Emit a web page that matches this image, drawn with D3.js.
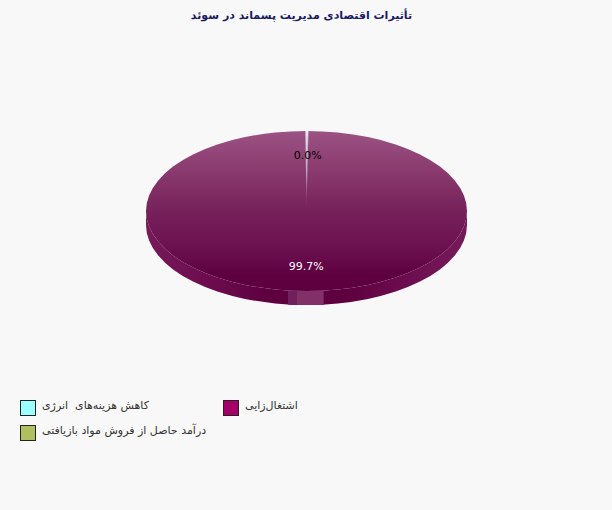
<!DOCTYPE html>
<html>
<head>
<meta charset="utf-8">
<script src="https://cdn.jsdelivr.net/npm/d3@7"></script>
<style>
  html, body { margin: 0; padding: 0; background: #f8f8f8; }
  text { font-family: "DejaVu Sans", sans-serif; }
</style>
</head>
<body>
<div id="chart"></div>
<script>
let titleText = "تأثیرات اقتصادی مدیریت پسماند در سوئد";

// slices in drawing order, clockwise from the top
let categories = ["اشتغال‌زایی", "کاهش هزینه‌های\u00a0 انرژی", "درآمد حاصل از فروش مواد بازیافتی"];
let values = [99.7, 0.26, 0.04];
let colors = ["#a50068", "#99ffff", "#b0c060"];

// the small slices overlap, only one of their labels is shown
let labelled = [true, false, true];
let labelColors = ["#ffffff", "#000000", "#000000"];

// legend reading order, by index into categories
let legendOrder = [1, 0, 2];

let width = 612, height = 510;
let cx = 306.5, cy = 211, rx = 160.5, ry = 80, depth = 14;

let svg = d3.select("#chart").append("svg")
    .attr("width", width)
    .attr("height", height)
    .style("display", "block");

let defs = svg.append("defs");

function verticalGradient(id, stops) {
    let grad = defs.append("linearGradient")
        .attr("id", id)
        .attr("gradientUnits", "userSpaceOnUse")
        .attr("x1", 0).attr("x2", 0)
        .attr("y1", cy - ry).attr("y2", cy + ry);
    stops.forEach(s => grad.append("stop").attr("offset", s[0]).attr("stop-color", s[1]));
}

verticalGradient("topShade", [["0%", "#9c5284"], ["25%", "#8a3a6e"], ["50%", "#76215a"], ["75%", "#6a0f4e"], ["90%", "#5e0040"], ["100%", "#5e0040"]]);
// the thin slices fade out towards the centre
verticalGradient("thinShade", [["0%", "#e4ecf4"], ["25%", "#b8a8c4"], ["50%", "#76215a"], ["100%", "#76215a"]]);

let sideGrad = defs.append("linearGradient")
    .attr("id", "sideShade")
    .attr("gradientUnits", "userSpaceOnUse")
    .attr("x1", cx - rx).attr("x2", cx + rx)
    .attr("y1", 0).attr("y2", 0);
sideGrad.append("stop").attr("offset", "0%").attr("stop-color", "#761a5a");
sideGrad.append("stop").attr("offset", "20%").attr("stop-color", "#6c0c4e");
sideGrad.append("stop").attr("offset", "38%").attr("stop-color", "#5e0040");
sideGrad.append("stop").attr("offset", "62%").attr("stop-color", "#5e0040");
sideGrad.append("stop").attr("offset", "80%").attr("stop-color", "#6c0c4e");
sideGrad.append("stop").attr("offset", "100%").attr("stop-color", "#761a5a");

// title
svg.append("text")
    .attr("x", 301.5)
    .attr("y", 19)
    .attr("text-anchor", "middle")
    .attr("direction", "rtl")
    .attr("font-size", 11)
    .attr("font-weight", "bold")
    .attr("fill", "#191966")
    .text(titleText);

// pie, flattened into an ellipse
let pie = d3.pie().sort(null).startAngle(0.012).endAngle(0.012 + 2 * Math.PI);
let arcs = pie(values);
let arc = d3.arc().innerRadius(0).outerRadius(rx);
let labelArc = d3.arc().innerRadius(rx * 0.7).outerRadius(rx * 0.7);

let bodyPath = `M${cx - rx},${cy}A${rx},${ry} 0 0 0 ${cx + rx},${cy}`
    + `L${cx + rx},${cy + depth}A${rx},${ry} 0 0 1 ${cx - rx},${cy + depth}Z`;

svg.append("path")
    .attr("d", bodyPath)
    .attr("fill", "url(#sideShade)");

// seam of the side wall under the first slice
defs.append("clipPath").attr("id", "bodyClip")
    .append("path").attr("d", bodyPath);

let seam = svg.append("g").attr("clip-path", "url(#bodyClip)");
seam.append("rect")
    .attr("x", cx - 18.5).attr("y", cy + ry)
    .attr("width", 36).attr("height", depth)
    .attr("fill", "#70205c");
seam.append("rect")
    .attr("x", cx - 9.5).attr("y", cy + ry)
    .attr("width", 26).attr("height", depth)
    .attr("fill", "#843068");

// the top face is flattened with a scale, so gradients are drawn on a copy in page coordinates
let topFace = svg.append("g");

topFace.append("ellipse")
    .attr("cx", cx).attr("cy", cy)
    .attr("rx", rx).attr("ry", ry)
    .attr("fill", "url(#topShade)");

defs.selectAll(".slice-clip")
    .data(arcs)
    .enter()
    .append("clipPath")
    .attr("class", "slice-clip")
    .attr("id", d => "slice" + d.index)
    .append("path")
    .attr("transform", "translate(" + cx + "," + cy + ") scale(1," + (ry / rx) + ")")
    .attr("d", arc);

topFace.selectAll(".slice")
    .data(arcs.filter(d => d.index > 0))
    .enter()
    .append("rect")
    .attr("class", "slice")
    .attr("x", cx - rx).attr("y", cy - ry)
    .attr("width", 2 * rx).attr("height", 2 * ry)
    .attr("clip-path", d => "url(#slice" + d.index + ")")
    .attr("fill", "url(#thinShade)");

svg.selectAll(".pie-label")
    .data(arcs.filter(d => labelled[d.index]))
    .enter()
    .append("text")
    .attr("class", "pie-label")
    .attr("x", d => cx + labelArc.centroid(d)[0])
    .attr("y", d => cy + labelArc.centroid(d)[1] * ry / rx + 3.5)
    .attr("text-anchor", "middle")
    .attr("font-size", 11)
    .attr("fill", d => labelColors[d.index])
    .text(d => d.data.toFixed(1) + "%");

// legend, filled row by row in two columns
let colX = d3.scalePoint().domain([0, 1]).range([20, 223]);
let rowY = d3.scalePoint().domain([0, 1]).range([400, 425]);

let legend = svg.selectAll(".legend-item")
    .data(legendOrder)
    .enter()
    .append("g")
    .attr("class", "legend-item")
    .attr("transform", (d, i) => "translate(" + colX(i % 2) + "," + rowY(Math.floor(i / 2)) + ")");

legend.append("rect")
    .attr("x", 0.5).attr("y", 0.5)
    .attr("width", 15).attr("height", 15)
    .attr("fill", d => colors[d])
    .attr("stroke", "#222");

legend.append("text")
    .attr("x", 22)
    .attr("y", 9)
    .attr("direction", "rtl")
    .attr("text-anchor", "end")
    .attr("font-size", 11)
    .attr("fill", "#333")
    .text(d => categories[d]);
</script>
</body>
</html>
